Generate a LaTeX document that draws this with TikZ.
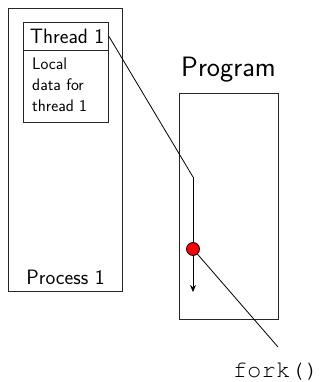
\documentclass[tikz,border=0pt]{standalone}
\usepackage[T1]{fontenc}
\usepackage{fontspec}
\usetikzlibrary{arrows.meta}
\begin{document}
\begin{tikzpicture}[x=1pt,y=-1pt,
  box/.style={draw=black!85, line width=1pt, inner sep=0pt},
  big/.style={font=\sffamily\fontsize{20.8}{25}\selectfont},
  conn/.style={draw=black, line width=0.8pt}]
\useasboundingbox (0,0) rectangle (321,382);
% process box
\node[box, anchor=north west, minimum width=114, minimum height=283] (proc) at (8,8) {};
\node[big, anchor=base] (plabel) at (65.5,284) {Process 1};
% thread box
\node[box, anchor=north west, minimum width=85, minimum height=100] (thr) at (23,22) {};
\node[box, anchor=north west, minimum width=85, minimum height=28] (thead) at (23,22) {};
\node[big, anchor=base] (tlabel) at (67,44) {Thread 1};
\node[anchor=north west, align=left, inner sep=0pt,
      font=\sffamily\fontsize{16.7}{21}\selectfont] (local) at (32,57.5) {Local\\data for\\thread 1};
% program
\node[font=\sffamily\fontsize{28}{33}\selectfont, anchor=base] (prlabel) at (228.5,77) {Program};
\node[box, anchor=north west, minimum width=99, minimum height=226] (prog) at (179,93) {};
% flow
\coordinate (bend) at (193,177);
\coordinate (tip) at (193,292);
\coordinate (forkend) at (278,347);
\draw[conn] (thead.east) -- (bend);
\draw[conn, -{Stealth[length=7pt,width=6pt]}] (bend) -- (tip);
\node[circle, fill=red, draw=black, line width=0.8pt, minimum size=13, inner sep=0pt] (dot) at (193,249) {};
\draw[conn] (dot) -- (forkend);
\node[font=\fontencoding{T1}\fontfamily{pcr}\fontsize{24}{28}\selectfont, anchor=base] (fork) at (276,377) {fork()};
\end{tikzpicture}
\end{document}
